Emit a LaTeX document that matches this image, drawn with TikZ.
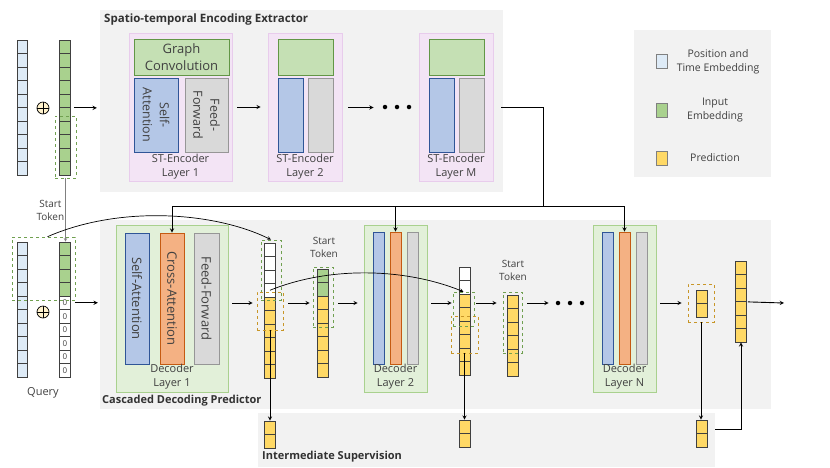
\documentclass[tikz,border=0pt]{standalone}
\usepackage{fontspec}
\setmainfont{Open Sans}
\usepackage{tikz}
\usetikzlibrary{arrows, positioning, calc}
\definecolor{panelgray}{RGB}{242, 242, 242}
\definecolor{encfill}{RGB}{243, 228, 245}
\definecolor{encline}{RGB}{232, 204, 236}
\definecolor{gcfill}{RGB}{197, 224, 180}
\definecolor{gcline}{RGB}{98, 150, 70}
\definecolor{safill}{RGB}{180, 199, 231}
\definecolor{saline}{RGB}{47, 85, 151}
\definecolor{fffill}{RGB}{217, 217, 217}
\definecolor{ffline}{RGB}{150, 150, 150}
\definecolor{cafill}{RGB}{244, 177, 131}
\definecolor{caline}{RGB}{197, 90, 17}
\definecolor{decfill}{RGB}{226, 240, 217}
\definecolor{decline}{RGB}{169, 209, 142}
\definecolor{posfill}{RGB}{222, 235, 247}
\definecolor{embfill}{RGB}{169, 209, 142}
\definecolor{predfill}{RGB}{255, 217, 102}
\definecolor{plusfill}{RGB}{255, 242, 204}
\definecolor{celline}{RGB}{64, 64, 64}
\definecolor{dashgreen}{RGB}{112, 160, 80}
\definecolor{dashorange}{RGB}{200, 150, 40}
\definecolor{textgray}{RGB}{64, 64, 64}
\definecolor{titlegray}{RGB}{50, 50, 50}

\begin{document}
\begin{tikzpicture}[
    x=1pt, y=-1pt,
    panel/.style={rectangle, fill=panelgray, inner sep=0pt},
    enclayer/.style={rectangle, fill=encfill, draw=encline, line width=0.6pt, inner sep=0pt},
    gconv/.style={rectangle, fill=gcfill, draw=gcline, line width=0.8pt, inner sep=0pt},
    selfatt/.style={rectangle, fill=safill, draw=saline, line width=0.8pt, inner sep=0pt},
    feedfwd/.style={rectangle, fill=fffill, draw=ffline, line width=0.8pt, inner sep=0pt},
    crossatt/.style={rectangle, fill=cafill, draw=caline, line width=0.8pt, inner sep=0pt},
    declayer/.style={rectangle, fill=decfill, draw=decline, line width=0.6pt, inner sep=0pt},
    cell/.style={rectangle, draw=celline, line width=0.7pt, minimum width=11pt, minimum height=13.5pt, inner sep=0pt},
    zerotxt/.style={text=textgray, font=\fontsize{8}{8}\selectfont},
    greenbox/.style={rectangle, draw=dashgreen, dashed, line width=0.6pt, inner sep=0pt},
    orangebox/.style={rectangle, draw=dashorange, dashed, line width=0.6pt, inner sep=0pt},
    plusnode/.style={circle, fill=plusfill, draw=black, line width=0.7pt, minimum size=12pt, inner sep=0pt},
    dot/.style={circle, fill=black, minimum size=4.5pt, inner sep=0pt},
    lbl/.style={text=textgray, align=center, inner sep=1pt, font=\fontsize{11}{14}\selectfont},
    legtxt/.style={text=textgray, align=center, inner sep=1pt, font=\fontsize{10.5}{14}\selectfont},
    small/.style={text=textgray, align=center, inner sep=1pt, font=\fontsize{10}{13}\selectfont},
    title/.style={text=titlegray, anchor=west, inner sep=0pt, font=\bfseries\fontsize{11}{13}\selectfont},
    blocktxt/.style={rotate=-90, align=center, text=textgray, inner sep=0pt, font=\fontsize{13}{17}\selectfont},
    arrow/.style={->, >=stealth, line width=0.9pt},
    wire/.style={line width=0.9pt},
    curve/.style={->, >=stealth, line width=0.7pt},
    tokenline/.style={->, >=stealth, draw=gray, line width=0.6pt}
]
    \useasboundingbox (0,0) rectangle (830,467);

    % panels
    \node[panel, minimum width=403pt, minimum height=182pt] (encpanel) at (301.5,101) {};
    \node[title, font=\bfseries\fontsize{11.5}{13}\selectfont] (enctitle) at (104,20) {Spatio-temporal Encoding Extractor};
    \node[panel, minimum width=137pt, minimum height=147pt] (legend) at (702.5,103.5) {};
    \node[panel, minimum width=671pt, minimum height=189pt] (decpanel) at (435.5,314.5) {};
    \node[title] (dectitle) at (102,401) {Cascaded Decoding Predictor};
    \node[panel, minimum width=457pt, minimum height=54pt] (suppanel) at (486.5,440) {};
    \node[title] (suptitle) at (262,457) {Intermediate Supervision};

    % encoder layers
    \node[enclayer, minimum width=103pt, minimum height=148pt] (enc1) at (180.5,107) {};
    \node[gconv, minimum width=95pt, minimum height=36pt, align=center, text=textgray,
          font=\fontsize{13}{17}\selectfont] (gc1) at (181.5,57) {Graph\\Convolution};
    \node[selfatt, minimum width=44pt, minimum height=74pt] (sa1) at (156,115) {};
    \node[feedfwd, minimum width=43pt, minimum height=74pt] (ff1) at (206.5,115) {};
    \node[blocktxt, font=\fontsize{12.5}{17}\selectfont] (sa1txt) at (sa1) {Self-\\Attention};
    \node[blocktxt, font=\fontsize{12.5}{17}\selectfont] (ff1txt) at (ff1) {Feed-\\Forward};
    \node[lbl] (enc1txt) at (180.5,167) {ST-Encoder\\Layer 1};

    \foreach \cx/\nm/\num in {305/enc2/2, 456/encM/M} {
        \node[enclayer, minimum width=74pt, minimum height=148pt] (\nm) at (\cx,107.5) {};
        \node[gconv, minimum width=55pt, minimum height=36pt] (\nm-gc) at (\cx+0.5,57) {};
        \node[selfatt, minimum width=25pt, minimum height=74pt] (\nm-sa) at (\cx-14.5,115) {};
        \node[feedfwd, minimum width=25pt, minimum height=74pt] (\nm-ff) at (\cx+15.5,115) {};
        \node[lbl] (\nm-txt) at (\cx,167) {ST-Encoder\\Layer \num};
    }
    \foreach \x [count=\i] in {385,397,409} \node[dot] (edot\i) at (\x,107) {};

    % decoder layers
    \node[declayer, minimum width=112pt, minimum height=167pt] (dec1) at (172,308.5) {};
    \node[selfatt, minimum width=24pt, minimum height=131pt] (sa-d1) at (137,298.5) {};
    \node[crossatt, minimum width=24pt, minimum height=131pt] (ca1) at (172,298.5) {};
    \node[feedfwd, minimum width=25pt, minimum height=131pt] (ff-d1) at (206.5,298.5) {};
    \node[blocktxt] (sa-d1txt) at (sa-d1) {Self-Attention};
    \node[blocktxt] (ca1txt) at (ca1) {Cross-Attention};
    \node[blocktxt] (ff-d1txt) at (ff-d1) {Feed-Forward};
    \node[lbl] (dec1txt) at (172,377) {Decoder\\Layer 1};

    \foreach \cx/\nm/\num in {395.5/2/2, 624.5/N/N} {
        \node[declayer, minimum width=63pt, minimum height=167pt] (dec\nm) at (\cx,308.5) {};
        \node[selfatt, minimum width=11pt, minimum height=132pt] (sa-d\nm) at (\cx-17,298) {};
        \node[crossatt, minimum width=11pt, minimum height=132pt] (ca\nm) at (\cx,298) {};
        \node[feedfwd, minimum width=11pt, minimum height=132pt] (ff-d\nm) at (\cx+17,298) {};
        \node[lbl] (dec\nm txt) at (\cx,377) {Decoder\\Layer \num};
    }
    \foreach \x [count=\i] in {558,570,582} \node[dot] (ddot\i) at (\x,303) {};

    % input embeddings
    \foreach \i in {1,...,10} {
        \node[cell, minimum width=10pt, fill=posfill] (inpos-\i) at (22,{40+(\i-0.5)*13.5}) {};
        \node[cell, fill=embfill] (inemb-\i) at (65,{40+(\i-0.5)*13.5}) {};
        \node[cell, minimum width=10pt, fill=posfill] (qpos-\i) at (22,{242+(\i-0.5)*13.5}) {};
    }
    \foreach \i in {1,...,4} \node[cell, fill=embfill] (qemb-\i) at (65,{242+(\i-0.5)*13.5}) {};
    \foreach \i in {5,...,10} \node[cell, fill=white, zerotxt] (qemb-\i) at (65,{242+(\i-0.5)*13.5}) {0};
    \node[plusnode] (plus1) at (43,108) {};
    \node[plusnode] (plus2) at (43,312) {};
    \draw[line width=0.7pt] (plus1.north) -- (plus1.south) (plus1.west) -- (plus1.east);
    \draw[line width=0.7pt] (plus2.north) -- (plus2.south) (plus2.west) -- (plus2.east);
    \node[lbl] (query) at (43,393) {Query};

    % decoder outputs and start tokens
    \foreach \c [count=\i] in {white,white,white,white,predfill,predfill,predfill,predfill,predfill,predfill}
        \node[cell, fill=\c] (out1-\i) at (270,{243+(\i-0.5)*13.5}) {};
    \foreach \c [count=\i] in {embfill,embfill,predfill,predfill,predfill,predfill,predfill,predfill}
        \node[cell, fill=\c] (st1-\i) at (323,{269+(\i-0.5)*13.5}) {};
    \foreach \c [count=\i] in {white,white,predfill,predfill,predfill,predfill,predfill,predfill}
        \node[cell, fill=\c] (out2-\i) at (464.5,{267+(\i-0.5)*13.5}) {};
    \foreach \i in {1,...,6} {
        \node[cell, fill=predfill] (st2-\i) at (512.5,{295+(\i-0.5)*13.5}) {};
        \node[cell, fill=predfill] (pred-\i) at (741,{261+(\i-0.5)*13.5}) {};
    }
    \foreach \i in {1,2} {
        \node[cell, fill=predfill] (outN-\i) at (701.5,{290+(\i-0.5)*13.5}) {};
        \node[cell, fill=predfill] (sup1-\i) at (270,{421+(\i-0.5)*13.5}) {};
        \node[cell, fill=predfill] (sup2-\i) at (464.5,{420+(\i-0.5)*13.5}) {};
        \node[cell, fill=predfill] (sup3-\i) at (701.5,{420+(\i-0.5)*13.5}) {};
    }
    \node[small] (tok1) at (324,247.5) {Start\\Token};
    \node[small] (tok2) at (513,270.5) {Start\\Token};

    % dashed boxes
    \node[greenbox, minimum width=21pt, minimum height=62pt] (inbox) at (65.5,147) {};
    \node[greenbox, minimum width=63pt, minimum height=63pt] (qbox) at (43.5,268.5) {};
    \node[greenbox, minimum width=20pt, minimum height=60pt] (box1g) at (271,270) {};
    \node[orangebox, minimum width=26pt, minimum height=38pt] (box1o) at (270,311) {};
    \node[greenbox, minimum width=20pt, minimum height=60pt] (st1box) at (323,297) {};
    \node[greenbox, minimum width=21pt, minimum height=34pt] (box2g) at (463.5,309) {};
    \node[orangebox, minimum width=27pt, minimum height=37pt] (box2o) at (464.5,334.5) {};
    \node[greenbox, minimum width=19pt, minimum height=61pt] (st2box) at (512.5,322.5) {};
    \node[orangebox, minimum width=26pt, minimum height=38pt] (boxNo) at (701,303) {};

    % connectors
    \coordinate (row) at (0,303);
    \coordinate (split) at (543,206);
    \coordinate (outend) at (784,303);

    \draw[tokenline] (inbox.south) -- (inbox.south |- qemb-1.north)
        node[midway, left, small] (tok0) {Start\\Token};
    \draw[arrow, shorten <=3pt, shorten >=3pt] (inemb-5.south east) -- (inemb-5.south east -| encpanel.west);
    \draw[arrow, shorten <=5pt, shorten >=7pt] (enc1.east) -- (enc1.east -| enc2.west);
    \draw[arrow, shorten <=6pt, shorten >=9pt] (enc2.east) -- (enc2.east -| edot1.west);
    \draw[wire] ([xshift=8pt]encM.east) -| (split);
    \draw[arrow] (split) -| (ca1.north);
    \draw[arrow] (split) -| (ca2.north);
    \draw[arrow] (split) -| (caN.north);

    \draw[arrow, shorten <=4pt, shorten >=2pt] (qemb-5.east) -- (qemb-5.east -| decpanel.west);
    \draw[arrow, shorten <=4pt, shorten >=4pt] (dec1.east |- row) -- (box1o.west |- row);
    \draw[arrow, shorten <=5pt, shorten >=3pt] (box1o.east |- row) -- (st1box.west |- row);
    \draw[arrow, shorten <=5pt, shorten >=6pt] (st1box.east |- row) -- (dec2.west |- row);
    \draw[arrow, shorten <=4pt, shorten >=1pt] (dec2.east |- row) -- (box2g.west |- row);
    \draw[arrow, shorten <=2pt, shorten >=6pt] (box2g.east |- row) -- (st2box.west |- row);
    \draw[arrow, shorten <=5pt, shorten >=7pt] (st2box.east |- row) -- (ddot1.west);
    \draw[arrow, shorten <=4pt, shorten >=6pt] (decN.east |- row) -- (boxNo.west |- row);
    \draw[arrow, shorten <=1pt] (pred-3.south east) -- (outend);

    \draw[arrow] (box1o.south) -- (sup1-1.north);
    \draw[arrow] (box2o.south) -- (sup2-1.north);
    \draw[arrow] (boxNo.south) -- (boxNo.south |- sup3-1.north);
    \draw[arrow, shorten <=8pt] ([yshift=4.5pt]sup3-1.south east) -| (pred-6.south);

    \draw[curve] ([xshift=4pt]qbox.north) .. controls (120,205) and (215,212) .. (box1g.north);
    \draw[curve] (out1-4.center) .. controls (330,266) and (405,268) .. (box2g.north);

    % legend
    \node[cell, fill=posfill, minimum height=14pt, draw=gray] (lgpos) at (661.5,61) {};
    \node[cell, fill=embfill, minimum height=14pt, draw=gray] (lgemb) at (661.5,110) {};
    \node[cell, fill=predfill, minimum height=14pt, draw=gray] (lgpred) at (661.5,158.5) {};
    \node[legtxt] (lgpostxt) at (718,61.5) {Position and\\Time Embedding};
    \node[legtxt] (lgembtxt) at (715,110) {Input\\Embedding};
    \node[legtxt] (lgpredtxt) at (715,158) {Prediction};

\end{tikzpicture}
\end{document}
